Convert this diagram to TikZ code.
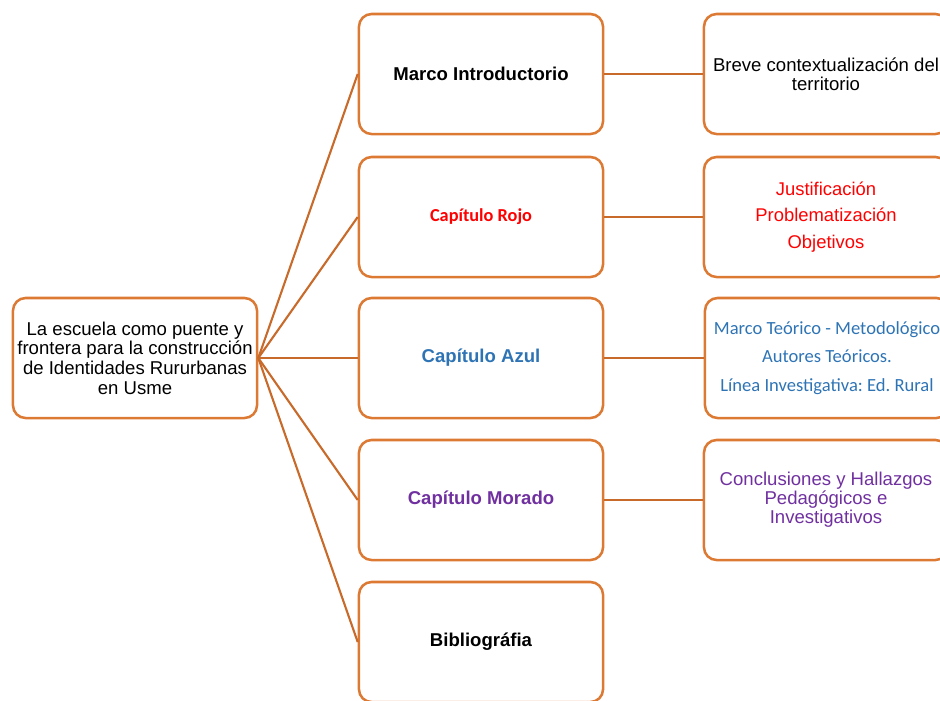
\documentclass[tikz,border=0pt]{standalone}
\usepackage{fontspec}
\setmainfont{Liberation Sans}
\newfontfamily\calibri{Carlito}
\usetikzlibrary{positioning}
\definecolor{naranja}{RGB}{220,122,52}
\definecolor{naranjaosc}{RGB}{200,106,42}
\definecolor{azul}{RGB}{46,116,181}
\definecolor{morado}{RGB}{112,48,160}
\definecolor{rojo}{RGB}{255,0,0}
\frenchspacing

\tikzset{
    caja/.style = {draw = naranja, line width = 1.8pt, rounded corners = 9pt,
        minimum width = 6.1cm, minimum height = 3cm, align = center, inner sep = 2pt},
    enlace/.style = {draw = naranjaosc, line width = 1.5pt},
    titulo/.style = {font = \fontsize{13.2}{15}\selectfont\bfseries}
}

\begin{document}
\begin{tikzpicture}[x = 0.025cm, y = -0.025cm]
        \clip (0, 0) rectangle (940, 700);
        \useasboundingbox (0, 0) rectangle (940, 700);
        % tema central
        \node[caja, font = \fontsize{13.2}{14}\selectfont] (tema) at (135, 358)
            {La escuela como puente y\\frontera para la construcción\\de Identidades Rururbanas\\en Usme};
        % capitulos
        \node[caja, titulo] (intro) at (481, 74) {Marco Introductorio};
        \node[caja, font = \calibri\fontsize{13}{15}\selectfont\bfseries, text = rojo] (rojo) at (481, 217) {Capítulo Rojo};
        \node[caja, titulo, text = azul] (azul) at (481, 358) {Capítulo Azul};
        \node[caja, titulo, text = morado] (morado) at (481, 500) {Capítulo Morado};
        \node[caja, titulo] (biblio) at (481, 642) {Bibliográfia};
        % contenidos
        \node[caja, font = \fontsize{13.2}{13.5}\selectfont] (territorio) at (826, 74)
            {Breve contextualización del\\territorio};
        \node[caja, font = \fontsize{13.1}{19}\selectfont, text = rojo] (justif) at (826, 217)
            {Justificación\\Problematización\\Objetivos};
        \node[caja, font = \calibri\fontsize{13.2}{20.2}\selectfont, text = azul] (teoria) at (827, 358)
            {Marco Teórico - Metodológico\\Autores Teóricos.\\Línea Investigativa: Ed. Rural};
        \node[caja, font = \fontsize{13.2}{13.5}\selectfont, text = morado] (conclus) at (826, 500)
            {Conclusiones y Hallazgos\\Pedagógicos e\\Investigativos};
        % enlaces
        \foreach \c in {intro, rojo, azul, morado, biblio}
            \draw[enlace] (tema.east) -- (\c.west);
        \draw[enlace] (intro) -- (territorio);
        \draw[enlace] (rojo) -- (justif);
        \draw[enlace] (azul) -- (teoria);
        \draw[enlace] (morado) -- (conclus);
    \end{tikzpicture}
\end{document}
